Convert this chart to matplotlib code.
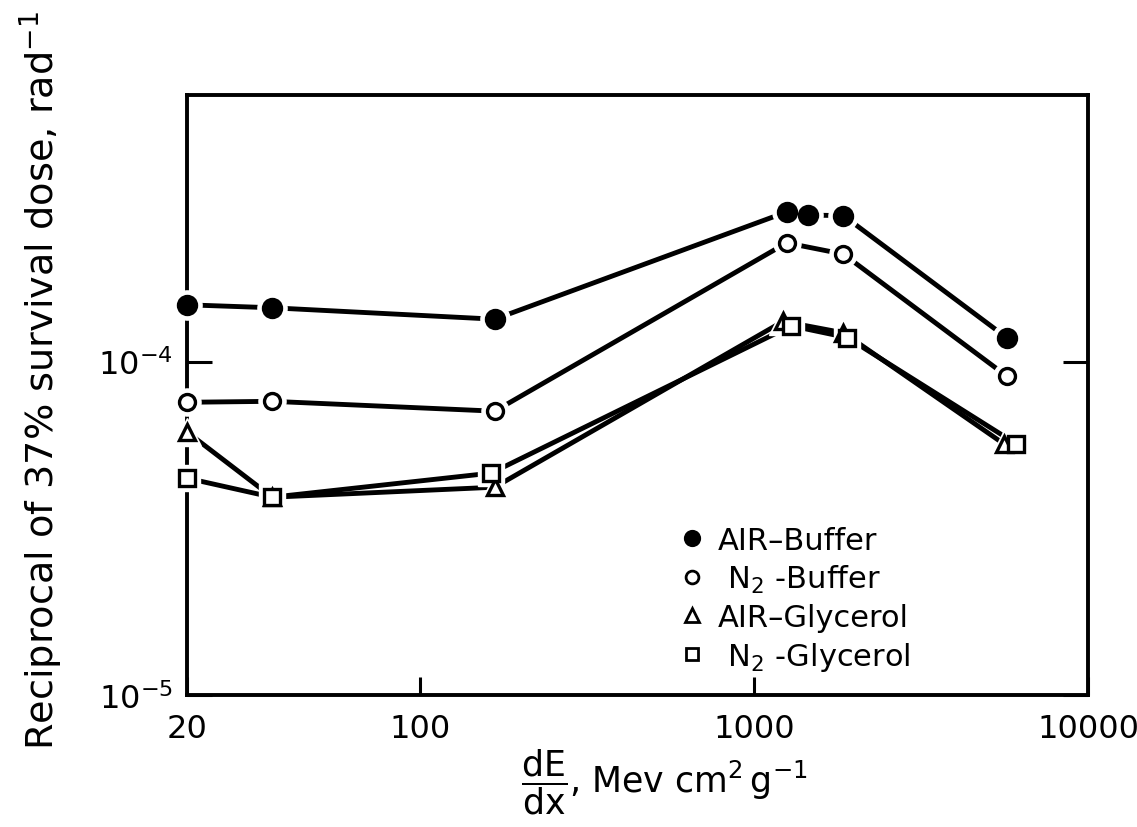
import numpy as np
import matplotlib
matplotlib.use("Agg")
import matplotlib.pyplot as plt

plt.rcParams['font.family'] = 'DejaVu Sans'
plt.rcParams['mathtext.fontset'] = 'dejavusans'

# values (log-log)
air_buf_x = [20, 36, 167, 1250, 1450, 1850, 5700]
air_buf_y = [1.48e-4, 1.45e-4, 1.34e-4, 2.81e-4, 2.75e-4, 2.74e-4, 1.18e-4]

n2_buf_x = [20, 36, 167, 1250, 1850, 5700]
n2_buf_y = [7.55e-5, 7.6e-5, 7.1e-5, 2.27e-4, 2.10e-4, 9.05e-5]

air_gly_x = [20, 36, 167, 1220, 1850, 5600]
air_gly_y = [6.15e-5, 3.92e-5, 4.2e-5, 1.32e-4, 1.22e-4, 5.66e-5]

n2_gly_x = [20, 36, 163, 1290, 1900, 6100]
n2_gly_y = [4.47e-5, 3.92e-5, 4.63e-5, 1.28e-4, 1.18e-4, 5.66e-5]

xticks = [20, 100, 1000, 10000]
xticklabels = ['20', '100', '1000', '10000']
yticks = [1e-5, 1e-4]

fig = plt.figure(figsize=(11.37, 8.28), dpi=100)
ax = fig.add_axes([0.1645, 0.1594, 0.7925, 0.7246])
ax.set_xscale('log')
ax.set_yscale('log')
ax.set_xlim(20, 10000)
ax.set_ylim(1e-5, 6.3e-4)

series = [
    (air_buf_x, air_buf_y, 'o', 'black', 13, 'AIR\u2013Buffer'),
    (n2_buf_x, n2_buf_y, 'o', 'white', 11.5, ' N$_2$ -Buffer'),
    (air_gly_x, air_gly_y, '^', 'white', 12, 'AIR\u2013Glycerol'),
    (n2_gly_x, n2_gly_y, 's', 'white', 11, ' N$_2$ -Glycerol'),
]

handles = []
for xs, ys, m, fc, ms, lab in series:
    ax.plot(xs, ys, '-', color='black', lw=3.5, zorder=2, clip_on=False,
            solid_capstyle='round')
    # white halo gives the small gap between line and marker
    ax.plot(xs, ys, m, ls='none', ms=ms + 8, mfc='white', mec='white',
            zorder=3, clip_on=False)
    ax.plot(xs, ys, m, ls='none', ms=ms, mfc=fc, mec='black', mew=2.4,
            zorder=4, clip_on=False)
    h, = ax.plot([], [], m, ls='none', ms=ms * 0.8, mfc=fc, mec='black', mew=2)
    handles.append((h, lab))

leg = ax.legend([h for h, _ in handles], [l for _, l in handles],
                loc='lower left', bbox_to_anchor=(0.53, 0.012),
                frameon=False, fontsize=22, handlelength=0.8,
                handletextpad=0.45, labelspacing=0.26, borderpad=0)

ax.set_xticks(xticks)
ax.set_xticklabels(xticklabels)
ax.set_yticks(yticks)
ax.minorticks_off()
ax.tick_params(axis='both', which='major', direction='in', width=2.2,
               labelsize=23, right=True)
ax.tick_params(axis='x', length=13, pad=13)
ax.tick_params(axis='y', length=18, pad=10)
for s in ax.spines.values():
    s.set_linewidth(2.8)

fig.text(0.036, 0.541, 'Reciprocal of 37% survival dose, rad$^{-1}$',
         rotation=90, ha='center', va='center', fontsize=27.5)
fig.text(0.584, 0.056,
         r'$\dfrac{\mathrm{dE}}{\mathrm{dx}}$, Mev cm$^2\,$g$^{-1}$',
         ha='center', va='center', fontsize=25)

fig.savefig('out.png', dpi=100)
